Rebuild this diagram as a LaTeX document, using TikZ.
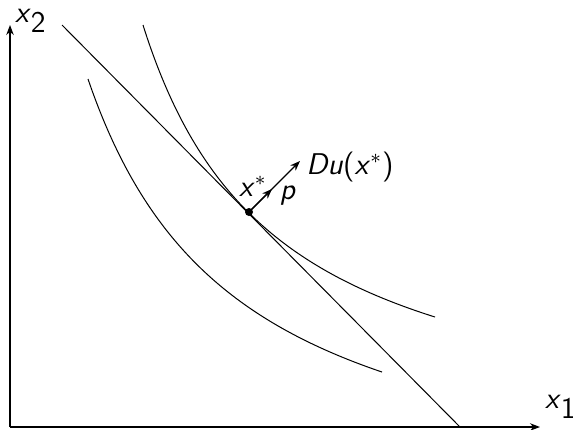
\documentclass[tikz,border=0pt]{standalone}
\usetikzlibrary{arrows.meta}
\newcommand\mv[1]{\textsf{\textit{#1}}}
\tikzset{
  axis/.style  = {-{Stealth[length=4pt,width=3pt]}, line width=0.45pt},
  curve/.style = {line width=0.4pt},
  vec/.style   = {-{Stealth[length=4pt,width=3pt]}, line width=0.45pt},
  lbl/.style   = {font=\large, inner sep=0pt},
}
\begin{document}
\begin{tikzpicture}[x=0.4pt,y=0.4pt]
  \useasboundingbox (0,0) rectangle (573,429);
  % axes
  \coordinate (O) at (10,2);
  \coordinate (X) at (540,2);
  \coordinate (Y) at (10,404);
  \draw[axis] (O) -- (X);
  \draw[axis] (O) -- (Y);
  \node[lbl] (x1) at (561,22) {$\mv{x}_{\textsf{1}}$};
  \node[lbl] (x2) at (31,408) {$\mv{x}_{\textsf{2}}$};
  % budget line
  \coordinate (B1) at (62,404);
  \coordinate (B2) at (460,2);
  \draw[curve] (B1) -- (B2);
  % indifference curves
  \draw[curve] plot[domain=143:435, samples=80, smooth] (\x, {-22.5 + 100*(573.6/(\x-8.5))});
  \draw[curve] plot[domain=88:382, samples=80, smooth] (\x, {-94.7 + 100*(676.8/(\x+64.2))});
  % optimum and gradient
  \coordinate (xs) at (249,217);
  \coordinate (Du) at (300,268);
  \coordinate (pp) at (272,240);
  \draw[vec] (xs) -- (Du);
  \draw[vec] (xs) -- (pp);
  \fill (xs) circle (4);
  \node[lbl] (lxs) at (253,243) {$\mv{x}^{*}$};
  \node[lbl] (lp) at (288,233) {$\mv{p}$};
  \node[lbl] (lDu) at (350,262) {\mv{Du}\textsf{(}$\mv{x}^{*}$\textsf{)}};
\end{tikzpicture}
\end{document}
